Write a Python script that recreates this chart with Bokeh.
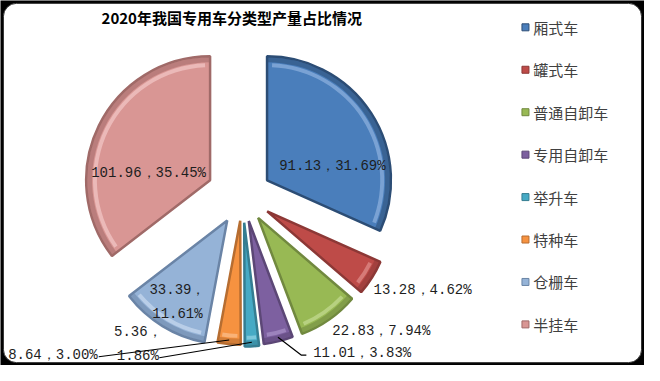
import math
from bokeh.plotting import figure
from bokeh.models import Range1d, ColumnDataSource
from bokeh.core.properties import value
from bokeh.embed import file_html
from bokeh.resources import INLINE

# ---------------- data ----------------
title_text = "2020年我国专用车分类型产量占比情况"
categories = ["厢式车", "罐式车", "普通自卸车", "专用自卸车", "举升车", "特种车", "仓栅车", "半挂车"]
values = [91.13, 13.28, 22.83, 11.01, 5.36, 8.64, 33.39, 101.96]

# ---------------- style ----------------
colors = ["#4A7EBB", "#BE4B48", "#98B954", "#7D60A0", "#46AAC5", "#F69240", "#95B3D7", "#D99694"]
darks = ["#2C4D75", "#8C3836", "#71893F", "#5C4776", "#357D91", "#B66D31", "#6A84A6", "#A06A68"]
lights = ["#8FB2DE", "#E08E8B", "#C4DB93", "#AA93C8", "#93D3E4", "#FBC08F", "#C9DAF0", "#F2C8C7"]
explode = [30, 30, 28, 27, 28, 26, 30, 37]
R = 127
CX, CY = 248, -204
# label offsets from slice apex, alignment, two-line flag
label_off = [(67, 15), (109, -82), (76, -118), (66, -138), (-109, -127), (-146, -140), (-51, -85), (-63, 8)]
label_align = ["center", "left", "left", "left", "center", "right", "center", "center"]
two_line = [False, False, False, False, True, False, True, False]
leader = [None, None, None, (59, -140), (-87, -141), (-145, -142), None, None]

W, H = 644, 365
RW, RH = 660, 381
p = figure(width=W, height=H, output_backend="svg", toolbar_location=None,
           x_range=Range1d(0, RW), y_range=Range1d(-RH, 0),
           min_border=0, x_axis_location=None, y_axis_location=None)
p.grid.visible = False
p.outline_line_color = None
p.background_fill_color = "black"
p.border_fill_color = "black"

# rounded white panel
p.quad(left=[3], right=[RW - 3], bottom=[-RH + 3], top=[-3],
       fill_color="white", line_color="#303030", line_width=1, border_radius=13)

total = sum(values)
cum = 0.0
apexes = []
for i, v in enumerate(values):
    a0 = math.radians(90 - cum / total * 360)
    cum += v
    a1 = math.radians(90 - cum / total * 360)
    mid = (a0 + a1) / 2
    ax = CX + explode[i] * math.cos(mid)
    ay = CY + explode[i] * math.sin(mid)
    apexes.append((ax, ay, mid))
    # base wedge
    p.wedge(x=[ax], y=[ay], radius=R, start_angle=a1, end_angle=a0,
            fill_color=colors[i], line_color=darks[i], line_width=2.5)
    # dark outer rim
    p.annular_wedge(x=[ax], y=[ay], inner_radius=R - 6, outer_radius=R - 1,
                    start_angle=a1, end_angle=a0, fill_color=darks[i],
                    fill_alpha=0.55, line_color=None)
    # highlight band
    span = a0 - a1
    inset = min(math.radians(2.5), span * 0.15)
    p.annular_wedge(x=[ax], y=[ay], inner_radius=R - 11, outer_radius=R - 7,
                    start_angle=a1 + inset, end_angle=a0 - inset, fill_color=lights[i],
                    fill_alpha=0.7, line_color=None)

# data labels
for i, v in enumerate(values):
    ax, ay, mid = apexes[i]
    pct = v / total * 100
    sep = "，\n" if two_line[i] else "，"
    txt = f"{v:.2f}{sep}{pct:.2f}%"
    dx, dy = label_off[i]
    p.text(x=[ax + dx], y=[ay + dy], text=[txt], text_font=value("Liberation Mono"),
           text_font_size="14px", text_color="#1E1E1E", text_align=label_align[i],
           text_baseline="middle", text_line_height=1.5)
    if leader[i] is not None:
        sx = ax + (R - 2) * math.cos(mid)
        sy = ay + (R - 2) * math.sin(mid)
        ex, ey = ax + leader[i][0], ay + leader[i][1]
        if i == 3:
            p.line(x=[sx, ex - 5, ex], y=[sy, ey, ey], line_color="black", line_width=1.2)
        else:
            p.line(x=[sx, ex], y=[sy, ey], line_color="black", line_width=1.2)

# title
p.text(x=[237], y=[-18], text=[title_text], text_font=value("Noto Sans CJK SC"),
       text_font_style="bold", text_font_size="15px", text_color="black",
       text_align="center", text_baseline="middle")

# legend
leg_y = [-(28 + k * 44.3) for k in range(len(categories))]
src = ColumnDataSource(dict(x=[538] * len(categories), tx=[546] * len(categories),
                            y=leg_y, c=colors, d=darks, t=categories))
p.scatter(x="x", y="y", source=src, marker="square", size=7, fill_color="c", line_color="d")
p.text(x="tx", y="y", text="t", source=src, text_font=value("Noto Sans CJK SC"),
       text_font_size="15px", text_color="#404040", text_baseline="middle")

open("out.html", "w").write(file_html(p, INLINE))
